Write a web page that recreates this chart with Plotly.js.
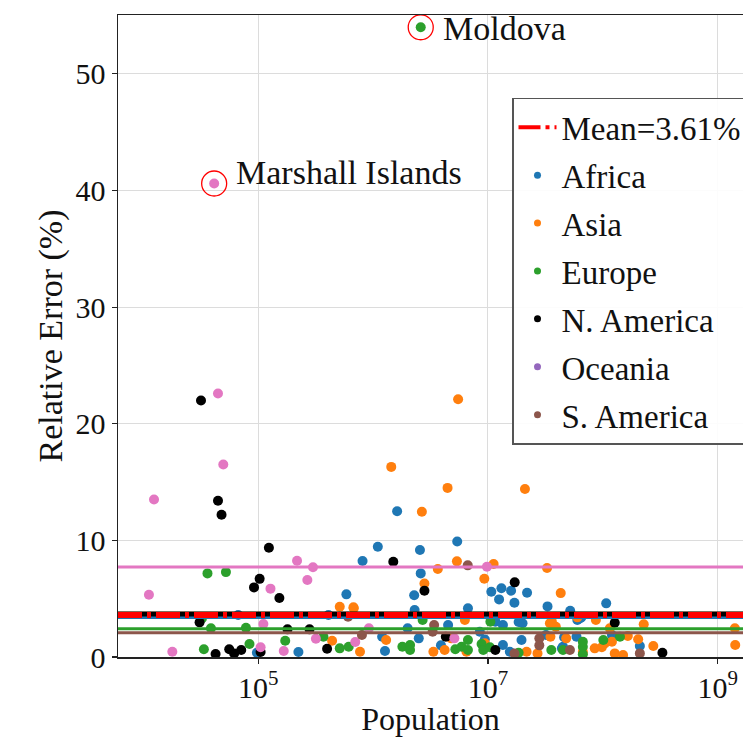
<!DOCTYPE html>
<html>
<head>
<meta charset="utf-8">
<script src="https://cdn.plot.ly/plotly-3.0.1.min.js"></script>
<style>html,body{margin:0;padding:0;background:#fff;}#chart{width:743px;height:737px;}</style>
</head>
<body>
<div id="chart"></div>
<script>
// ---- data ----
const continents = ["Africa", "Asia", "Europe", "N. America", "Oceania", "S. America"];

const africaPop = [5.86e5,4.09e5,6.7e4,9.75e4,2.24e5,8.1e5,1.1e6,1.62e6,2.56e6,5.4e6,2.6e6,2.28e6,1.07e7,1.31e7,1.25e7,1.59e7,2.19e7,1.7e7,3.3e7,6.7e6,2.3e6,5.2e7,6.5e7,2.0e6,4.5e6,8.5e6,1.35e7,2.0e7,1.2e6,2.5e6,3.2e7,4.5e7,1.27e6,1.35e7,1.07e8,6.3e7,5.9e7,1.2e8,2.1e8,1.16e7,1.85e7,1.96e7,4.6e7,4.4e7,1.55e7,6.0e7,9.4e6,3.9e6];
const africaErr = [5.37,3.6,3.6,0.37,0.43,8.23,9.45,12.5,9.17,9.9,7.17,5.29,5.6,5.89,4.94,5.68,5.51,4.65,4.34,4.17,4.03,3.97,3.4,2.46,2.74,2.17,2.74,2.89,1.74,1.6,1.89,0.88,0.51,1.03,4.6,3.3,1.74,1.89,0.94,3.03,3.0,1.46,1.69,0.74,0.45,3.17,1.5,1.0];

const asiaPop = [5.13e5,6.79e5,4.4e5,5.5e6,1.44e6,4.45e6,2.1e7,2.66e6,5.37e6,3.66e6,1.12e7,3.27e7,9.3e6,2.8e6,4.3e7,6.75e5,6.3e6,3.46e7,3.9e7,1.3e6,3.5e7,4.8e7,7.7e5,3.35e6,4.2e6,2.17e7,6.7e7,6.5e6,8.7e7,2.27e8,1.15e8,1.65e8,2.03e8,1.04e8,1.2e8,8.5e7,9.8e7,2.75e8,1.27e8,1.5e8,1.41e9,1.42e9,3.6e7,4.8e6,9.4e6,2.7e7,6.0e7];
const asiaErr = [4.31,4.17,1.4,22.1,16.3,14.5,14.4,12.45,8.2,7.54,7.97,7.63,6.71,6.3,5.48,4.26,3.17,2.89,2.6,1.46,1.74,1.6,0.45,0.45,0.6,0.45,0.45,0.45,3.17,2.8,2.46,1.8,1.52,1.17,1.31,0.74,0.83,0.94,0.31,0.17,2.46,1.03,3.03,1.6,1.17,0.31,3.4];

const europePop = [3.62e4,5.24e4,3.24e4,3.88e4,7.83e4,8.4e4,1.72e5,3.7e5,5.13e5,6.14e5,3.37e4,2.7e6,6.7e6,1.8e6,2.1e6,5.2e6,5.9e6,8.8e6,9.1e6,1.04e7,3.56e7,6.7e7,1.41e8,6.7e7,1.01e8,6.7e7,2.6e6,1.05e7,2.1e6,6.7e6,1.85e7,4.5e7];
const europeErr = [7.17,7.28,3.3,2.46,2.5,1.11,1.4,1.74,0.74,0.88,0.66,3.17,1.46,0.88,1.03,0.66,0.88,1.11,0.6,0.83,0.6,0.88,1.74,1.31,1.46,0.23,54.0,3.03,0.6,0.6,0.37,0.6];

const namericaPop = [3.18e4,4.47e4,4.8e4,1.24e5,1.03e5,9.2e4,1.53e5,3.09e4,1.8e5,2.8e5,3.98e5,4.26e4,5.6e4,6.18e4,7.12e4,1.05e5,1.5e6,2.8e6,1.71e7,4.3e6,1.16e7,1.27e8,3.3e8];
const namericaErr = [22.0,13.4,12.2,9.37,6.7,5.97,5.06,2.97,2.37,2.37,0.71,0.26,0.66,0.31,0.6,0.43,8.17,5.68,6.4,1.74,0.6,2.94,0.37];

const oceaniaPop = [4.47e4,4.97e4,1.24e4,2.18e5,3.0e5,2.68e5,1.28e5,1.12e4,1.11e5,3.18e5,7.0e5,1.79e4,1.05e5,1.67e5,9.2e5,5.1e6,9.8e6,4.14e4];
const oceaniaErr = [22.6,16.5,13.5,8.25,7.7,6.6,5.86,5.34,2.83,1.57,1.29,0.45,0.83,0.51,2.46,1.6,7.74,40.6];

const samericaPop = [6.06e5,6.67e6,3.4e6,8.0e5,3.3e6,2.8e7,5.17e7,2.1e8,2.8e7,1.7e7];
const samericaErr = [3.45,7.86,2.74,1.89,2.17,1.6,0.6,0.31,1.0,0.3];

// per-continent mean lines and overall mean
const meanValues = [3.38, 3.75, 2.43, 3.68, 7.71, 2.08];
const overallMean = 3.61;

// highlighted outliers
const outlierNames = ["Marshall Islands", "Moldova"];
const outlierPop = [4.14e4, 2.6e6];
const outlierErr = [40.6, 54.0];

const xTickVals = [1e5, 1e7, 1e9];
const xTickText = ["10<sup>5</sup>", "10<sup>7</sup>", "10<sup>9</sup>"];
const yTickVals = [0, 10, 20, 30, 40, 50];

// ---- styling ----
const pointColors = ["#1f77b4", "#ff7f0e", "#2ca02c", "#000000", "#e377c2", "#8c564b"];
const legendColors = ["#1f77b4", "#ff7f0e", "#2ca02c", "#000000", "#9467bd", "#8c564b"];
const FONT = "Liberation Serif, Times New Roman, serif";

const pops = [africaPop, asiaPop, europePop, namericaPop, oceaniaPop, samericaPop];
const errs = [africaErr, asiaErr, europeErr, namericaErr, oceaniaErr, samericaErr];

const traces = [];
traces.push({
  x: [null], y: [null], mode: "lines", name: "Mean=" + overallMean.toFixed(2) + "%",
  line: {color: "red", width: 4, dash: "22px,5px,4px,5px"},
  legendgroup: "g0", hoverinfo: "skip"
});
continents.forEach((c, i) => {
  traces.push({
    x: pops[i], y: errs[i], mode: "markers", type: "scatter", name: c,
    marker: {color: pointColors[i], size: 10, line: {width: 0}},
    showlegend: false
  });
});
continents.forEach((c, i) => {
  traces.push({
    x: [null], y: [null], mode: "markers", type: "scatter", name: c,
    marker: {color: legendColors[i], size: 7},
    legendgroup: "g" + (i + 1)
  });
});
traces.push({
  x: outlierPop, y: outlierErr, mode: "markers", showlegend: false,
  marker: {symbol: "circle-open", size: 25, color: "red", line: {width: 1.3, color: "red"}}
});

const shapes = [];
const lineStyles = [
  {color: "#1f77b4", width: 3},
  {color: "#ff7f0e", width: 3},
  {color: "#2ca02c", width: 3},
  {color: "#000000", width: 5},
  {color: "#e377c2", width: 3},
  {color: "#8c564b", width: 3}
];
meanValues.forEach((m, i) => {
  shapes.push({type: "line", xref: "paper", x0: 0, x1: 1, yref: "y", y0: m, y1: m,
    line: lineStyles[i], layer: "above"});
});
shapes.push({type: "line", xref: "paper", x0: 0, x1: 1, yref: "y", y0: overallMean, y1: overallMean,
  line: {color: "red", width: 6, dash: "24px,5px,4px,5px"}, layer: "above"});

const annotations = outlierNames.map((n, i) => ({
  x: Math.log10(outlierPop[i]), y: outlierErr[i], xref: "x", yref: "y",
  text: n, showarrow: false, xanchor: "left", yanchor: "middle",
  xshift: 20, yshift: i === 0 ? 11 : -1,
  font: {family: FONT, size: 34, color: "#111"}
}));

const layout = {
  width: 743, height: 737,
  margin: {l: 118, r: 0, t: 15, b: 80, autoexpand: false},
  paper_bgcolor: "#fff", plot_bgcolor: "#fff",
  font: {family: FONT, size: 30, color: "#111"},
  xaxis: {
    type: "log", range: [3.78, 9.22], automargin: false,
    tickvals: xTickVals, ticktext: xTickText,
    tickfont: {family: FONT, size: 30}, ticklabelstandoff: -2,
    showgrid: true, gridcolor: "#dcdcdc", gridwidth: 1,
    showline: true, mirror: true, linecolor: "#222", linewidth: 1.5,
    ticks: "outside", ticklen: 5, tickwidth: 1.2, tickcolor: "#222",
    zeroline: false,
    title: {text: "Population", font: {family: FONT, size: 32}, standoff: 8}
  },
  yaxis: {
    range: [0, 55.05], tickvals: yTickVals, automargin: false,
    tickfont: {family: FONT, size: 30},
    showgrid: true, gridcolor: "#dcdcdc", gridwidth: 1,
    showline: true, linecolor: "#222", linewidth: 1.5,
    ticks: "outside", ticklen: 5, tickwidth: 1.2, tickcolor: "#222",
    zeroline: false,
    title: {text: "Relative Error (%)", font: {family: FONT, size: 34}, standoff: 2}
  },
  legend: {
    x: 0.6304, y: 0.871, xanchor: "left", yanchor: "top",
    bgcolor: "rgba(255,255,255,0.9)", bordercolor: "#555", borderwidth: 1.5,
    font: {family: FONT, size: 33, color: "#111"},
    tracegroupgap: 2, traceorder: "grouped", itemwidth: 38
  },
  shapes: shapes,
  annotations: annotations,
  showlegend: true
};

Plotly.newPlot("chart", traces, layout, {staticPlot: true, displayModeBar: false});
</script>
</body>
</html>
